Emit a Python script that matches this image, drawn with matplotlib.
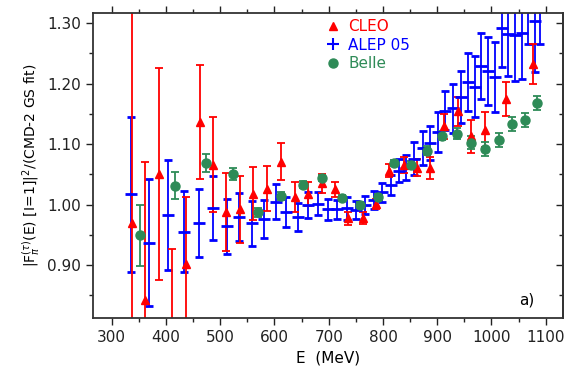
import numpy as np
import matplotlib
matplotlib.use("Agg")
import matplotlib.pyplot as plt
from matplotlib.lines import Line2D
from matplotlib.ticker import MultipleLocator, FormatStrFormatter, NullFormatter

# CLEO (red triangles)
cleo_e = [337, 361, 387, 412, 437, 462, 486, 511, 537, 561, 586, 612, 637, 662, 687,
          712, 736, 763, 788, 812, 838, 863, 887, 913, 938, 962, 988, 1026, 1076]
cleo_v = [0.969, 0.842, 1.050, 0.760, 0.902, 1.136, 1.066, 0.988, 0.992, 1.018, 1.026,
          1.071, 1.013, 1.018, 1.035, 1.025, 0.977, 0.978, 1.001, 1.056, 1.065, 1.061,
          1.060, 1.129, 1.154, 1.113, 1.124, 1.174, 1.232]
cleo_err = [0.40, 0.228, 0.175, 0.166, 0.110, 0.094, 0.078, 0.064, 0.055, 0.044, 0.037,
            0.031, 0.025, 0.020, 0.016, 0.012, 0.010, 0.010, 0.008, 0.011, 0.013, 0.014,
            0.018, 0.020, 0.024, 0.027, 0.029, 0.028, 0.033]

# ALEPH 05 (blue crosses)
aleph_e = [335, 369, 403, 433, 460, 487, 512, 535, 559, 580, 602, 622, 643, 662, 680,
           698, 716, 733, 751, 767, 783, 799, 814, 829, 843, 858, 873, 887, 901, 915,
           929, 943, 956, 969, 980, 993, 1007, 1019, 1031, 1043, 1056, 1068, 1080, 1090]
aleph_v = [1.017, 0.937, 0.983, 0.955, 0.970, 0.994, 0.964, 0.979, 0.969, 0.976, 1.005,
           0.988, 0.979, 0.999, 1.001, 0.992, 0.992, 0.994, 0.991, 0.999, 1.007, 1.020,
           1.032, 1.056, 1.061, 1.076, 1.093, 1.101, 1.120, 1.155, 1.159, 1.178, 1.203,
           1.195, 1.229, 1.221, 1.211, 1.291, 1.282, 1.280, 1.283, 1.350, 1.304, 1.360]
aleph_err = [0.128, 0.105, 0.091, 0.067, 0.056, 0.053, 0.045, 0.040, 0.037, 0.031, 0.029,
             0.025, 0.023, 0.022, 0.019, 0.017, 0.016, 0.019, 0.015, 0.015, 0.015, 0.016,
             0.017, 0.019, 0.021, 0.027, 0.028, 0.028, 0.033, 0.032, 0.040, 0.043, 0.048,
             0.050, 0.055, 0.056, 0.058, 0.063, 0.070, 0.075, 0.075, 0.085, 0.085, 0.094]

# Belle (green circles)
belle_e = [352, 417, 473, 523, 569, 612, 652, 688, 724, 758, 791, 821, 852, 881, 908,
           936, 962, 988, 1013, 1038, 1061, 1084]
belle_v = [0.949, 1.031, 1.069, 1.050, 0.987, 1.014, 1.033, 1.044, 1.011, 0.999, 1.013,
           1.068, 1.066, 1.089, 1.114, 1.117, 1.102, 1.092, 1.107, 1.133, 1.140, 1.168]
belle_err = [0.050, 0.022, 0.015, 0.010, 0.007, 0.007, 0.006, 0.005, 0.005, 0.005, 0.005,
             0.005, 0.006, 0.007, 0.008, 0.009, 0.011, 0.012, 0.012, 0.012, 0.012, 0.011]

red = "#ff0000"
blue = "#0000ff"
green = "#2e8b57"

plt.rcParams['font.family'] = ['DejaVu Sans']

fig = plt.figure(figsize=(5.65, 3.67), dpi=100)
ax = fig.add_axes([0.1646, 0.1343, 0.832, 0.831])

ax.errorbar(aleph_e, aleph_v, yerr=aleph_err, fmt='_', color=blue, ms=8, mew=2,
            elinewidth=1.3, capsize=3, capthick=1.3)
ax.errorbar(cleo_e, cleo_v, yerr=cleo_err, fmt='^', color=red, ms=6,
            elinewidth=1.3, capsize=3, capthick=1.3)
ax.errorbar(belle_e, belle_v, yerr=belle_err, fmt='o', color=green, ms=6.5,
            elinewidth=1.3, capsize=3, capthick=1.3)

ax.set_xlim(265.5, 1132)
ax.set_ylim(0.813, 1.317)
ax.xaxis.set_major_locator(MultipleLocator(100))
ax.xaxis.set_minor_locator(MultipleLocator(50))
ax.yaxis.set_major_locator(MultipleLocator(0.1))
ax.yaxis.set_minor_locator(MultipleLocator(0.05))
ax.yaxis.set_major_formatter(FormatStrFormatter('%.2f'))
ax.tick_params(which='both', direction='out', top=True, right=False,
               labelsize=11, colors='#222222')
ax.tick_params(which='major', length=5, width=1)
ax.tick_params(which='minor', length=3, width=1)
for s in ax.spines.values():
    s.set_linewidth(1.3)
    s.set_color('#333333')

# right-hand ticks point inwards
sec = ax.secondary_yaxis('right')
sec.yaxis.set_major_locator(MultipleLocator(0.1))
sec.yaxis.set_minor_locator(MultipleLocator(0.05))
sec.yaxis.set_major_formatter(NullFormatter())
sec.tick_params(which='both', direction='in', colors='#222222')
sec.tick_params(which='major', length=5, width=1)
sec.tick_params(which='minor', length=3, width=1)
sec.spines['right'].set_linewidth(1.3)
sec.spines['right'].set_color('#333333')

ax.set_xlabel('E  (MeV)', fontsize=11)
ax.set_ylabel(r'$|\mathrm{F}_\pi^{(\tau)}\mathrm{(E)\ [I\!=\!1]}|^2$/(CMD-2 GS fit)', fontsize=10)

handles = [Line2D([], [], ls='none', marker='^', color=red, ms=6),
           Line2D([], [], ls='none', marker='+', color=blue, ms=8, mew=1.5),
           Line2D([], [], ls='none', marker='o', color=green, ms=6.5)]
ax.legend(handles, ['CLEO', 'ALEP 05', 'Belle'], loc='upper left',
          bbox_to_anchor=(0.465, 1.025), frameon=False, handlelength=1.0,
          handletextpad=0.5, labelspacing=0.25, fontsize=11,
          labelcolor=[red, blue, green])

ax.text(0.923, 0.058, 'a)', transform=ax.transAxes, fontsize=11, ha='center', va='center')

fig.savefig('out.png', dpi=100)
